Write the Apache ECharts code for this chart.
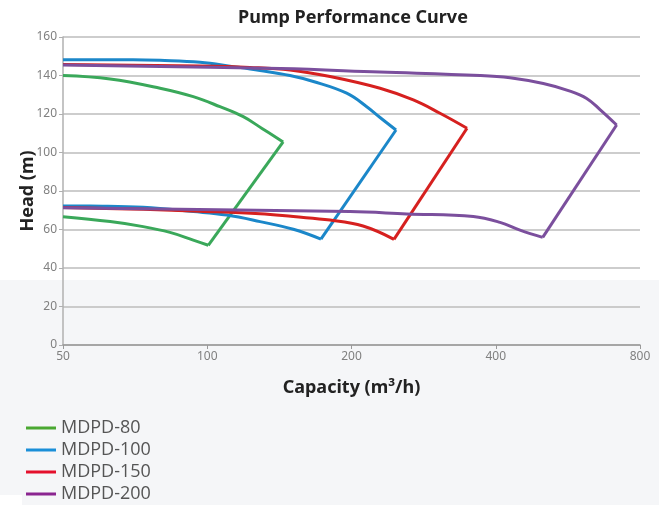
<!DOCTYPE html>
<html>
<head>
<meta charset="utf-8">
<script src="https://cdn.jsdelivr.net/npm/echarts@6/dist/echarts.min.js"></script>
<style>
html,body{margin:0;padding:0;background:#fff;}
#c{width:659px;height:505px;}
</style>
</head>
<body>
<div id="c"></div>
<script>
// ---- Data (capacity m3/h, head m) ----
const seriesNames = ['MDPD-80', 'MDPD-100', 'MDPD-150', 'MDPD-200'];
const lineColors = ['#3aa85a', '#1b87c9', '#d6201f', '#7b4f9d'];
const legendColors = ['#4aa832', '#1a8fd8', '#e4102c', '#8a2590'];
const xTickLabels = [50, 100, 200, 400, 800];

// upper (max impeller) curves, from 50 m3/h to end point
const top80  = [[50,140],[62.7,138.2],[79.7,133.4],[93.5,129.0],[106.3,123.8],[118.9,118.6],[130.1,112.5],[144,105.5]];
const top100 = [[50,148.2],[70,148.2],[79.7,147.9],[96.6,146.9],[113.3,144.6],[128.9,142.6],[148.8,140.0],[166.5,136.9],[195.4,130.8],[215.2,123.8],[229.4,118.2],[247.7,111.7]];
const top150 = [[50,145.7],[96.6,144.9],[122.8,144.2],[148.8,142.9],[180.4,139.5],[229.4,133.4],[269.2,127.3],[306,120.4],[348.4,112.6]];
const top200 = [[50,145.5],[141.9,143.6],[229.4,141.8],[370.9,140.0],[428.4,138.8],[502.7,135.8],[571.5,131.9],[619.2,128.1],[660.1,122.3],[715,114.3]];

// lower (min impeller) curves, from 50 m3/h to end point
const bot80  = [[50,66.6],[62.7,64.1],[73.5,61.5],[83.6,58.5],[93.5,54.5],[100.5,51.8]];
const bot100 = [[50,72.2],[60.5,72.1],[73.5,71.5],[93.5,69.3],[109.8,67.5],[128.9,64.1],[151.2,60.1],[172.7,55]];
const bot150 = [[50,71.4],[73.5,70.5],[96.6,69.5],[128.9,68.2],[151.2,66.7],[180.4,64.9],[211.4,61.8],[245.3,54.9]];
const bot200 = [[50,71.3],[198.6,69.3],[260.8,68.1],[359.1,66.7],[408.3,63.7],[449.4,59.7],[501.3,55.9]];

const tops = [top80, top100, top150, top200];
const bots = [bot80, bot100, bot150, bot200];

// log2 capacity scale, 50 -> 0
const X0 = xTickLabels[0];
const tx = p => [Math.log2(p[0] / X0), p[1]];

const series = [];
seriesNames.forEach((name, i) => {
  const base = {
    name: name, type: 'line', showSymbol: false, symbol: 'none',
    lineStyle: { color: lineColors[i], width: 3 }, itemStyle: { color: lineColors[i] },
    z: 2 + i, animation: false
  };
  const t = tops[i], b = bots[i];
  series.push(Object.assign({}, base, { smooth: 0.4, data: t.map(tx) }));
  series.push(Object.assign({}, base, { smooth: false, data: [t[t.length - 1], b[b.length - 1]].map(tx) }));
  series.push(Object.assign({}, base, { smooth: 0.4, data: b.map(tx) }));
});

const chart = echarts.init(document.getElementById('c'), null, { renderer: 'canvas' });
chart.setOption({
  backgroundColor: '#ffffff',
  animation: false,
  graphic: [
    { type: 'rect', left: 0, top: 280, shape: { width: 659, height: 225 }, style: { fill: '#f5f6f8' }, z: -10, silent: true },
    { type: 'rect', left: 0, top: 495, shape: { width: 22, height: 10 }, style: { fill: '#ffffff' }, z: -9, silent: true }
  ],
  title: {
    text: 'Pump Performance Curve',
    left: 348, top: 4, textAlign: 'center',
    textStyle: { fontFamily: 'Noto Sans', fontWeight: 'bold', fontSize: 18, color: '#222' }
  },
  grid: { left: 63, right: 19, top: 37, bottom: 160, containLabel: false },
  xAxis: {
    type: 'value', min: 0, max: xTickLabels.length - 1, interval: 1,
    name: 'Capacity (m³/h)', nameLocation: 'middle', nameGap: 34, nameMoveOverlap: false,
    nameTextStyle: { fontFamily: 'Noto Sans', fontWeight: 'bold', fontSize: 18, color: '#222' },
    axisLine: { lineStyle: { color: '#9a9a9a', width: 1.5 } },
    axisTick: { show: true, length: 4, lineStyle: { color: '#9a9a9a' } },
    splitLine: { show: false },
    axisLabel: {
      fontFamily: 'Noto Sans', fontSize: 12, color: '#808080', margin: 6,
      formatter: v => String(xTickLabels[Math.round(v)])
    }
  },
  yAxis: {
    type: 'value', min: 0, max: 160, interval: 20,
    name: 'Head (m)', nameLocation: 'middle', nameGap: 26, nameRotate: 90, nameMoveOverlap: false,
    nameTextStyle: { fontFamily: 'Noto Sans', fontWeight: 'bold', fontSize: 18, color: '#222' },
    axisLine: { show: true, lineStyle: { color: '#b0b0b0', width: 1.5 } },
    axisTick: { show: true, length: 4, lineStyle: { color: '#b0b0b0' } },
    splitLine: { show: true, lineStyle: { color: '#bdbdbd', width: 1.5 } },
    axisLabel: { fontFamily: 'Noto Sans', fontSize: 12, color: '#808080', margin: 6 }
  },
  legend: {
    orient: 'vertical', left: 26, top: 418, padding: 0, height: 90,
    icon: 'rect', itemWidth: 30, itemHeight: 3, itemGap: 2, itemTextGap: 9,
    textStyle: { fontFamily: 'Open Sans', fontSize: 18, color: '#555', lineHeight: 20 },
    data: seriesNames.map((n, i) => ({ name: n, itemStyle: { color: legendColors[i] }, lineStyle: { color: legendColors[i] } }))
  },
  series: series
});
</script>
</body>
</html>
